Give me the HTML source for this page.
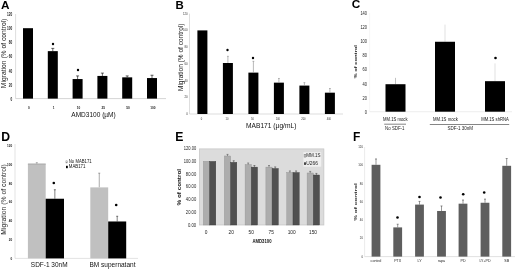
<!DOCTYPE html>
<html><head><meta charset="utf-8"><style>
html,body{margin:0;padding:0;background:#fff;width:520px;height:269px;overflow:hidden}
svg{display:block;will-change:transform}
</style></head><body>
<svg width="520" height="269" viewBox="0 0 520 269">
<rect x="0" y="0" width="520" height="269" fill="#fff"/>
<text x="0.9" y="8.8" font-size="11.8" font-weight="bold" font-family='"Liberation Sans", sans-serif' fill="#000">A</text>
<line x1="15.60" y1="14.00" x2="15.60" y2="98.60" stroke="#c8c8c8" stroke-width="0.6" />
<line x1="15.60" y1="98.60" x2="166.00" y2="98.60" stroke="#b8b8b8" stroke-width="0.6" />
<text x="12.30" y="99.40" font-size="4.6" text-anchor="end" font-weight="bold" fill="#222" font-family='"Liberation Sans", sans-serif' dominant-baseline="central" textLength="1.75" lengthAdjust="spacingAndGlyphs" >0</text>
<text x="12.30" y="85.23" font-size="4.6" text-anchor="end" font-weight="bold" fill="#222" font-family='"Liberation Sans", sans-serif' dominant-baseline="central" textLength="3.50" lengthAdjust="spacingAndGlyphs" >20</text>
<text x="12.30" y="71.07" font-size="4.6" text-anchor="end" font-weight="bold" fill="#222" font-family='"Liberation Sans", sans-serif' dominant-baseline="central" textLength="3.50" lengthAdjust="spacingAndGlyphs" >40</text>
<text x="12.30" y="56.90" font-size="4.6" text-anchor="end" font-weight="bold" fill="#222" font-family='"Liberation Sans", sans-serif' dominant-baseline="central" textLength="3.50" lengthAdjust="spacingAndGlyphs" >60</text>
<text x="12.30" y="42.74" font-size="4.6" text-anchor="end" font-weight="bold" fill="#222" font-family='"Liberation Sans", sans-serif' dominant-baseline="central" textLength="3.50" lengthAdjust="spacingAndGlyphs" >80</text>
<text x="12.30" y="28.57" font-size="4.6" text-anchor="end" font-weight="bold" fill="#222" font-family='"Liberation Sans", sans-serif' dominant-baseline="central" textLength="5.25" lengthAdjust="spacingAndGlyphs" >100</text>
<text x="12.30" y="14.40" font-size="4.6" text-anchor="end" font-weight="bold" fill="#222" font-family='"Liberation Sans", sans-serif' dominant-baseline="central" textLength="5.25" lengthAdjust="spacingAndGlyphs" >120</text>
<rect x="23.00" y="28.19" width="10.00" height="70.41" fill="#000" />
<rect x="47.80" y="51.14" width="10.00" height="47.46" fill="#000" />
<line x1="52.80" y1="48.38" x2="52.80" y2="51.14" stroke="#000" stroke-width="0.6" />
<line x1="51.30" y1="48.38" x2="54.30" y2="48.38" stroke="#000" stroke-width="0.6" />
<rect x="72.60" y="79.05" width="10.00" height="19.55" fill="#000" />
<line x1="77.60" y1="75.93" x2="77.60" y2="79.05" stroke="#000" stroke-width="0.6" />
<line x1="76.10" y1="75.93" x2="79.10" y2="75.93" stroke="#000" stroke-width="0.6" />
<rect x="97.40" y="75.93" width="10.00" height="22.67" fill="#000" />
<line x1="102.40" y1="73.10" x2="102.40" y2="75.93" stroke="#000" stroke-width="0.6" />
<line x1="100.90" y1="73.10" x2="103.90" y2="73.10" stroke="#000" stroke-width="0.6" />
<rect x="122.20" y="77.35" width="10.00" height="21.25" fill="#000" />
<line x1="127.20" y1="75.93" x2="127.20" y2="77.35" stroke="#000" stroke-width="0.6" />
<line x1="125.70" y1="75.93" x2="128.70" y2="75.93" stroke="#000" stroke-width="0.6" />
<rect x="147.00" y="78.06" width="10.00" height="20.54" fill="#000" />
<line x1="152.00" y1="75.23" x2="152.00" y2="78.06" stroke="#000" stroke-width="0.6" />
<line x1="150.50" y1="75.23" x2="153.50" y2="75.23" stroke="#000" stroke-width="0.6" />
<circle cx="53.00" cy="44.00" r="1.2" fill="#000"/>
<circle cx="78.00" cy="70.00" r="1.2" fill="#000"/>
<text x="28.80" y="107.10" font-size="4.2" text-anchor="middle" font-weight="bold" fill="#222" font-family='"Liberation Sans", sans-serif' dominant-baseline="central" textLength="1.75" lengthAdjust="spacingAndGlyphs" >0</text>
<text x="53.60" y="107.10" font-size="4.2" text-anchor="middle" font-weight="bold" fill="#222" font-family='"Liberation Sans", sans-serif' dominant-baseline="central" textLength="1.75" lengthAdjust="spacingAndGlyphs" >1</text>
<text x="78.40" y="107.10" font-size="4.2" text-anchor="middle" font-weight="bold" fill="#222" font-family='"Liberation Sans", sans-serif' dominant-baseline="central" textLength="3.50" lengthAdjust="spacingAndGlyphs" >10</text>
<text x="103.20" y="107.10" font-size="4.2" text-anchor="middle" font-weight="bold" fill="#222" font-family='"Liberation Sans", sans-serif' dominant-baseline="central" textLength="3.50" lengthAdjust="spacingAndGlyphs" >25</text>
<text x="128.00" y="107.10" font-size="4.2" text-anchor="middle" font-weight="bold" fill="#222" font-family='"Liberation Sans", sans-serif' dominant-baseline="central" textLength="3.50" lengthAdjust="spacingAndGlyphs" >50</text>
<text x="152.80" y="107.10" font-size="4.2" text-anchor="middle" font-weight="bold" fill="#222" font-family='"Liberation Sans", sans-serif' dominant-baseline="central" textLength="5.25" lengthAdjust="spacingAndGlyphs" >100</text>
<text x="93.50" y="114.10" font-size="6.5" text-anchor="middle" font-weight="normal" fill="#111" font-family='"Liberation Sans", sans-serif' dominant-baseline="central" textLength="44.40" lengthAdjust="spacingAndGlyphs" >AMD3100 (&#181;M)</text>
<text x="3.60" y="53.40" font-size="6.4" text-anchor="middle" font-weight="normal" fill="#222" font-family='"Liberation Sans", sans-serif' dominant-baseline="central" transform="rotate(-90 3.60 53.40)" textLength="69.50" lengthAdjust="spacingAndGlyphs" >Migration (% of control)</text>
<text x="175.6" y="8.8" font-size="11.4" font-weight="bold" font-family='"Liberation Sans", sans-serif' fill="#000">B</text>
<line x1="189.50" y1="13.60" x2="189.50" y2="114.00" stroke="#c8c8c8" stroke-width="0.6" />
<line x1="189.50" y1="114.00" x2="343.00" y2="114.00" stroke="#c8c8c8" stroke-width="0.6" />
<text x="187.70" y="114.00" font-size="3.6" text-anchor="end" font-weight="normal" fill="#333" font-family='"Liberation Sans", sans-serif' dominant-baseline="central" textLength="1.57" lengthAdjust="spacingAndGlyphs" >0</text>
<text x="187.70" y="97.28" font-size="3.6" text-anchor="end" font-weight="normal" fill="#333" font-family='"Liberation Sans", sans-serif' dominant-baseline="central" textLength="3.14" lengthAdjust="spacingAndGlyphs" >20</text>
<text x="187.70" y="80.56" font-size="3.6" text-anchor="end" font-weight="normal" fill="#333" font-family='"Liberation Sans", sans-serif' dominant-baseline="central" textLength="3.14" lengthAdjust="spacingAndGlyphs" >40</text>
<text x="187.70" y="63.84" font-size="3.6" text-anchor="end" font-weight="normal" fill="#333" font-family='"Liberation Sans", sans-serif' dominant-baseline="central" textLength="3.14" lengthAdjust="spacingAndGlyphs" >60</text>
<text x="187.70" y="47.12" font-size="3.6" text-anchor="end" font-weight="normal" fill="#333" font-family='"Liberation Sans", sans-serif' dominant-baseline="central" textLength="3.14" lengthAdjust="spacingAndGlyphs" >80</text>
<text x="187.70" y="30.40" font-size="3.6" text-anchor="end" font-weight="normal" fill="#333" font-family='"Liberation Sans", sans-serif' dominant-baseline="central" textLength="4.71" lengthAdjust="spacingAndGlyphs" >100</text>
<text x="187.70" y="13.68" font-size="3.6" text-anchor="end" font-weight="normal" fill="#333" font-family='"Liberation Sans", sans-serif' dominant-baseline="central" textLength="4.71" lengthAdjust="spacingAndGlyphs" >120</text>
<rect x="197.40" y="30.40" width="10.00" height="83.60" fill="#000" />
<rect x="222.90" y="63.00" width="10.00" height="51.00" fill="#000" />
<line x1="227.90" y1="56.32" x2="227.90" y2="63.00" stroke="#888" stroke-width="0.6" />
<line x1="227.00" y1="56.32" x2="228.80" y2="56.32" stroke="#888" stroke-width="0.6" />
<rect x="248.40" y="72.62" width="10.00" height="41.38" fill="#000" />
<line x1="253.40" y1="61.33" x2="253.40" y2="72.62" stroke="#888" stroke-width="0.6" />
<line x1="252.50" y1="61.33" x2="254.30" y2="61.33" stroke="#888" stroke-width="0.6" />
<rect x="273.90" y="82.65" width="10.00" height="31.35" fill="#000" />
<line x1="278.90" y1="78.47" x2="278.90" y2="82.65" stroke="#888" stroke-width="0.6" />
<line x1="278.00" y1="78.47" x2="279.80" y2="78.47" stroke="#888" stroke-width="0.6" />
<rect x="299.40" y="85.58" width="10.00" height="28.42" fill="#000" />
<line x1="304.40" y1="82.65" x2="304.40" y2="85.58" stroke="#888" stroke-width="0.6" />
<line x1="303.50" y1="82.65" x2="305.30" y2="82.65" stroke="#888" stroke-width="0.6" />
<rect x="324.90" y="92.68" width="10.00" height="21.32" fill="#000" />
<line x1="329.90" y1="88.50" x2="329.90" y2="92.68" stroke="#888" stroke-width="0.6" />
<line x1="329.00" y1="88.50" x2="330.80" y2="88.50" stroke="#888" stroke-width="0.6" />
<circle cx="227.50" cy="50.00" r="1.2" fill="#000"/>
<circle cx="253.00" cy="58.00" r="1.2" fill="#000"/>
<text x="201.40" y="118.80" font-size="3.6" text-anchor="middle" font-weight="normal" fill="#333" font-family='"Liberation Sans", sans-serif' dominant-baseline="central" textLength="1.45" lengthAdjust="spacingAndGlyphs" >0</text>
<text x="226.90" y="118.80" font-size="3.6" text-anchor="middle" font-weight="normal" fill="#333" font-family='"Liberation Sans", sans-serif' dominant-baseline="central" textLength="2.90" lengthAdjust="spacingAndGlyphs" >10</text>
<text x="252.40" y="118.80" font-size="3.6" text-anchor="middle" font-weight="normal" fill="#333" font-family='"Liberation Sans", sans-serif' dominant-baseline="central" textLength="2.90" lengthAdjust="spacingAndGlyphs" >50</text>
<text x="277.90" y="118.80" font-size="3.6" text-anchor="middle" font-weight="normal" fill="#333" font-family='"Liberation Sans", sans-serif' dominant-baseline="central" textLength="4.35" lengthAdjust="spacingAndGlyphs" >100</text>
<text x="303.40" y="118.80" font-size="3.6" text-anchor="middle" font-weight="normal" fill="#333" font-family='"Liberation Sans", sans-serif' dominant-baseline="central" textLength="4.35" lengthAdjust="spacingAndGlyphs" >200</text>
<text x="328.90" y="118.80" font-size="3.6" text-anchor="middle" font-weight="normal" fill="#333" font-family='"Liberation Sans", sans-serif' dominant-baseline="central" textLength="4.35" lengthAdjust="spacingAndGlyphs" >400</text>
<text x="271.20" y="125.60" font-size="6.6" text-anchor="middle" font-weight="normal" fill="#111" font-family='"Liberation Sans", sans-serif' dominant-baseline="central" textLength="50.40" lengthAdjust="spacingAndGlyphs" >MAB171 (&#181;g/mL)</text>
<text x="180.60" y="57.30" font-size="6.4" text-anchor="middle" font-weight="normal" fill="#222" font-family='"Liberation Sans", sans-serif' dominant-baseline="central" transform="rotate(-90 180.60 57.30)" textLength="67.50" lengthAdjust="spacingAndGlyphs" >Migration (% of control)</text>
<text x="351.7" y="8.3" font-size="11.8" font-weight="bold" font-family='"Liberation Sans", sans-serif' fill="#000">C</text>
<line x1="369.60" y1="111.70" x2="512.00" y2="111.70" stroke="#e2e2e2" stroke-width="0.6" />
<text x="367.00" y="111.70" font-size="5.0" text-anchor="end" font-weight="normal" fill="#222" font-family='"Liberation Sans", sans-serif' dominant-baseline="central" textLength="2.20" lengthAdjust="spacingAndGlyphs" >0</text>
<text x="367.00" y="97.60" font-size="5.0" text-anchor="end" font-weight="normal" fill="#222" font-family='"Liberation Sans", sans-serif' dominant-baseline="central" textLength="4.40" lengthAdjust="spacingAndGlyphs" >20</text>
<text x="367.00" y="83.50" font-size="5.0" text-anchor="end" font-weight="normal" fill="#222" font-family='"Liberation Sans", sans-serif' dominant-baseline="central" textLength="4.40" lengthAdjust="spacingAndGlyphs" >40</text>
<text x="367.00" y="69.40" font-size="5.0" text-anchor="end" font-weight="normal" fill="#222" font-family='"Liberation Sans", sans-serif' dominant-baseline="central" textLength="4.40" lengthAdjust="spacingAndGlyphs" >60</text>
<text x="367.00" y="55.30" font-size="5.0" text-anchor="end" font-weight="normal" fill="#222" font-family='"Liberation Sans", sans-serif' dominant-baseline="central" textLength="4.40" lengthAdjust="spacingAndGlyphs" >80</text>
<text x="367.00" y="41.20" font-size="5.0" text-anchor="end" font-weight="normal" fill="#222" font-family='"Liberation Sans", sans-serif' dominant-baseline="central" textLength="6.60" lengthAdjust="spacingAndGlyphs" >100</text>
<text x="367.00" y="27.10" font-size="5.0" text-anchor="end" font-weight="normal" fill="#222" font-family='"Liberation Sans", sans-serif' dominant-baseline="central" textLength="6.60" lengthAdjust="spacingAndGlyphs" >120</text>
<text x="367.00" y="13.00" font-size="5.0" text-anchor="end" font-weight="normal" fill="#222" font-family='"Liberation Sans", sans-serif' dominant-baseline="central" textLength="6.60" lengthAdjust="spacingAndGlyphs" >140</text>
<line x1="369.60" y1="13.00" x2="369.60" y2="111.70" stroke="#eee" stroke-width="0.5" />
<line x1="395.50" y1="77.86" x2="395.50" y2="84.21" stroke="#999" stroke-width="0.6" />
<rect x="385.50" y="84.21" width="20.00" height="27.49" fill="#000" />
<line x1="445.00" y1="24.63" x2="445.00" y2="41.76" stroke="#ccc" stroke-width="0.6" />
<rect x="435.00" y="41.76" width="20.00" height="69.94" fill="#000" />
<line x1="495.00" y1="63.41" x2="495.00" y2="81.17" stroke="#ccc" stroke-width="0.6" />
<rect x="485.00" y="81.17" width="20.00" height="30.53" fill="#000" />
<circle cx="495.50" cy="58.00" r="1.3" fill="#000"/>
<text x="395.30" y="119.30" font-size="4.7" text-anchor="middle" font-weight="normal" fill="#111" font-family='"Liberation Sans", sans-serif' dominant-baseline="central" textLength="24.50" lengthAdjust="spacingAndGlyphs" >MM.1S mock</text>
<text x="445.40" y="119.30" font-size="4.7" text-anchor="middle" font-weight="normal" fill="#111" font-family='"Liberation Sans", sans-serif' dominant-baseline="central" textLength="24.80" lengthAdjust="spacingAndGlyphs" >MM.1S mock</text>
<text x="495.00" y="119.30" font-size="4.7" text-anchor="middle" font-weight="normal" fill="#111" font-family='"Liberation Sans", sans-serif' dominant-baseline="central" textLength="27.70" lengthAdjust="spacingAndGlyphs" >MM.1S shRNA</text>
<line x1="384.20" y1="124.20" x2="406.00" y2="124.20" stroke="#333" stroke-width="0.6" />
<line x1="429.80" y1="124.50" x2="509.20" y2="124.50" stroke="#333" stroke-width="0.6" />
<text x="394.80" y="128.40" font-size="4.8" text-anchor="middle" font-weight="normal" fill="#222" font-family='"Liberation Sans", sans-serif' dominant-baseline="central" textLength="19.40" lengthAdjust="spacingAndGlyphs" >No SDF-1</text>
<text x="460.30" y="128.80" font-size="4.8" text-anchor="middle" font-weight="normal" fill="#222" font-family='"Liberation Sans", sans-serif' dominant-baseline="central" textLength="25.60" lengthAdjust="spacingAndGlyphs" >SDF-1 30nM</text>
<text x="355.50" y="61.80" font-size="4.2" text-anchor="middle" font-weight="bold" fill="#111" font-family='"Liberation Sans", sans-serif' dominant-baseline="central" transform="rotate(-90 355.50 61.80)" textLength="33.60" lengthAdjust="spacingAndGlyphs" >% of control</text>
<text x="1.3" y="141.0" font-size="12.2" font-weight="bold" font-family='"Liberation Sans", sans-serif' fill="#000">D</text>
<line x1="15.00" y1="144.00" x2="15.00" y2="258.40" stroke="#d0d0d0" stroke-width="0.6" />
<line x1="15.00" y1="258.40" x2="138.00" y2="258.40" stroke="#d0d0d0" stroke-width="0.6" />
<text x="12.20" y="259.30" font-size="3.8" text-anchor="end" font-weight="bold" fill="#222" font-family='"Liberation Sans", sans-serif' dominant-baseline="central" textLength="1.73" lengthAdjust="spacingAndGlyphs" >0</text>
<text x="12.20" y="240.36" font-size="3.8" text-anchor="end" font-weight="bold" fill="#222" font-family='"Liberation Sans", sans-serif' dominant-baseline="central" textLength="3.46" lengthAdjust="spacingAndGlyphs" >20</text>
<text x="12.20" y="221.42" font-size="3.8" text-anchor="end" font-weight="bold" fill="#222" font-family='"Liberation Sans", sans-serif' dominant-baseline="central" textLength="3.46" lengthAdjust="spacingAndGlyphs" >40</text>
<text x="12.20" y="202.48" font-size="3.8" text-anchor="end" font-weight="bold" fill="#222" font-family='"Liberation Sans", sans-serif' dominant-baseline="central" textLength="3.46" lengthAdjust="spacingAndGlyphs" >60</text>
<text x="12.20" y="183.54" font-size="3.8" text-anchor="end" font-weight="bold" fill="#222" font-family='"Liberation Sans", sans-serif' dominant-baseline="central" textLength="3.46" lengthAdjust="spacingAndGlyphs" >80</text>
<text x="12.20" y="164.60" font-size="3.8" text-anchor="end" font-weight="bold" fill="#222" font-family='"Liberation Sans", sans-serif' dominant-baseline="central" textLength="5.19" lengthAdjust="spacingAndGlyphs" >100</text>
<text x="12.20" y="145.66" font-size="3.8" text-anchor="end" font-weight="bold" fill="#222" font-family='"Liberation Sans", sans-serif' dominant-baseline="central" textLength="5.19" lengthAdjust="spacingAndGlyphs" >120</text>
<line x1="36.80" y1="162.75" x2="36.80" y2="163.70" stroke="#555" stroke-width="0.5" />
<line x1="35.80" y1="162.75" x2="37.80" y2="162.75" stroke="#555" stroke-width="0.5" />
<rect x="27.90" y="163.70" width="17.80" height="94.70" fill="#c0c0c0" />
<line x1="54.85" y1="189.74" x2="54.85" y2="198.74" stroke="#000" stroke-width="0.5" />
<line x1="53.85" y1="189.74" x2="55.85" y2="189.74" stroke="#000" stroke-width="0.5" />
<rect x="45.70" y="198.74" width="18.30" height="59.66" fill="#000" />
<line x1="99.25" y1="173.17" x2="99.25" y2="187.38" stroke="#555" stroke-width="0.5" />
<line x1="98.25" y1="173.17" x2="100.25" y2="173.17" stroke="#555" stroke-width="0.5" />
<rect x="90.30" y="187.38" width="17.90" height="71.02" fill="#c0c0c0" />
<line x1="117.20" y1="216.26" x2="117.20" y2="221.47" stroke="#000" stroke-width="0.5" />
<line x1="116.20" y1="216.26" x2="118.20" y2="216.26" stroke="#000" stroke-width="0.5" />
<rect x="108.20" y="221.47" width="18.00" height="36.93" fill="#000" />
<circle cx="53.80" cy="183.00" r="1.3" fill="#000"/>
<circle cx="116.20" cy="205.00" r="1.3" fill="#000"/>
<line x1="27.90" y1="164.10" x2="45.70" y2="164.10" stroke="#a4a4a4" stroke-width="0.8" />
<rect x="65.90" y="160.80" width="1.60" height="2.20" fill="#ddd" stroke="#888" stroke-width="0.4"/>
<rect x="66.00" y="165.80" width="1.80" height="2.40" fill="#000" />
<text x="68.80" y="161.90" font-size="4.5" text-anchor="start" font-weight="normal" fill="#111" font-family='"Liberation Sans", sans-serif' dominant-baseline="central" textLength="22.80" lengthAdjust="spacingAndGlyphs" >No MAB171</text>
<text x="68.80" y="166.90" font-size="4.5" text-anchor="start" font-weight="normal" fill="#111" font-family='"Liberation Sans", sans-serif' dominant-baseline="central" textLength="16.60" lengthAdjust="spacingAndGlyphs" >MAB171</text>
<text x="49.20" y="264.40" font-size="6.6" text-anchor="middle" font-weight="normal" fill="#111" font-family='"Liberation Sans", sans-serif' dominant-baseline="central" textLength="36.70" lengthAdjust="spacingAndGlyphs" >SDF-1 30nM</text>
<text x="112.50" y="264.40" font-size="6.6" text-anchor="middle" font-weight="normal" fill="#111" font-family='"Liberation Sans", sans-serif' dominant-baseline="central" textLength="46.00" lengthAdjust="spacingAndGlyphs" >BM supernatant</text>
<text x="3.40" y="199.50" font-size="6.5" text-anchor="middle" font-weight="normal" fill="#222" font-family='"Liberation Sans", sans-serif' dominant-baseline="central" transform="rotate(-90 3.40 199.50)" textLength="70.50" lengthAdjust="spacingAndGlyphs" >Migration (% of control)</text>
<text x="175.2" y="141.3" font-size="12.2" font-weight="bold" font-family='"Liberation Sans", sans-serif' fill="#000">E</text>
<rect x="199.50" y="148.90" width="124.40" height="76.10" fill="#dcdcdc" stroke="#c4c4c4" stroke-width="0.7"/>
<text x="196.20" y="225.00" font-size="4.7" text-anchor="end" font-weight="normal" fill="#222" font-family='"Liberation Sans", sans-serif' dominant-baseline="central" textLength="8.27" lengthAdjust="spacingAndGlyphs" >0.00</text>
<text x="196.20" y="212.28" font-size="4.7" text-anchor="end" font-weight="normal" fill="#222" font-family='"Liberation Sans", sans-serif' dominant-baseline="central" textLength="10.33" lengthAdjust="spacingAndGlyphs" >20.00</text>
<text x="196.20" y="199.56" font-size="4.7" text-anchor="end" font-weight="normal" fill="#222" font-family='"Liberation Sans", sans-serif' dominant-baseline="central" textLength="10.33" lengthAdjust="spacingAndGlyphs" >40.00</text>
<text x="196.20" y="186.84" font-size="4.7" text-anchor="end" font-weight="normal" fill="#222" font-family='"Liberation Sans", sans-serif' dominant-baseline="central" textLength="10.33" lengthAdjust="spacingAndGlyphs" >60.00</text>
<text x="196.20" y="174.12" font-size="4.7" text-anchor="end" font-weight="normal" fill="#222" font-family='"Liberation Sans", sans-serif' dominant-baseline="central" textLength="10.33" lengthAdjust="spacingAndGlyphs" >80.00</text>
<text x="196.20" y="161.40" font-size="4.7" text-anchor="end" font-weight="normal" fill="#222" font-family='"Liberation Sans", sans-serif' dominant-baseline="central" textLength="12.40" lengthAdjust="spacingAndGlyphs" >100.00</text>
<text x="196.20" y="148.68" font-size="4.7" text-anchor="end" font-weight="normal" fill="#222" font-family='"Liberation Sans", sans-serif' dominant-baseline="central" textLength="12.40" lengthAdjust="spacingAndGlyphs" >120.00</text>
<rect x="203.40" y="161.40" width="6.20" height="63.60" fill="#adadad" stroke="#909090" stroke-width="0.4"/>
<rect x="209.60" y="161.40" width="6.20" height="63.60" fill="#505050" stroke="#3a3a3a" stroke-width="0.4"/>
<rect x="224.40" y="155.99" width="6.20" height="69.01" fill="#adadad" stroke="#909090" stroke-width="0.4"/>
<rect x="230.60" y="162.35" width="6.20" height="62.65" fill="#505050" stroke="#3a3a3a" stroke-width="0.4"/>
<line x1="227.50" y1="154.40" x2="227.50" y2="155.99" stroke="#444" stroke-width="0.5" />
<line x1="226.50" y1="154.40" x2="228.50" y2="154.40" stroke="#444" stroke-width="0.5" />
<line x1="233.70" y1="160.76" x2="233.70" y2="162.35" stroke="#333" stroke-width="0.5" />
<line x1="232.70" y1="160.76" x2="234.70" y2="160.76" stroke="#333" stroke-width="0.5" />
<rect x="245.10" y="164.58" width="6.20" height="60.42" fill="#adadad" stroke="#909090" stroke-width="0.4"/>
<rect x="251.30" y="167.12" width="6.20" height="57.88" fill="#505050" stroke="#3a3a3a" stroke-width="0.4"/>
<line x1="248.20" y1="162.99" x2="248.20" y2="164.58" stroke="#444" stroke-width="0.5" />
<line x1="247.20" y1="162.99" x2="249.20" y2="162.99" stroke="#444" stroke-width="0.5" />
<line x1="254.40" y1="165.53" x2="254.40" y2="167.12" stroke="#333" stroke-width="0.5" />
<line x1="253.40" y1="165.53" x2="255.40" y2="165.53" stroke="#333" stroke-width="0.5" />
<rect x="265.90" y="167.12" width="6.20" height="57.88" fill="#adadad" stroke="#909090" stroke-width="0.4"/>
<rect x="272.10" y="168.52" width="6.20" height="56.48" fill="#505050" stroke="#3a3a3a" stroke-width="0.4"/>
<line x1="269.00" y1="165.53" x2="269.00" y2="167.12" stroke="#444" stroke-width="0.5" />
<line x1="268.00" y1="165.53" x2="270.00" y2="165.53" stroke="#444" stroke-width="0.5" />
<line x1="275.20" y1="166.93" x2="275.20" y2="168.52" stroke="#333" stroke-width="0.5" />
<line x1="274.20" y1="166.93" x2="276.20" y2="166.93" stroke="#333" stroke-width="0.5" />
<rect x="286.80" y="172.53" width="6.20" height="52.47" fill="#adadad" stroke="#909090" stroke-width="0.4"/>
<rect x="293.00" y="172.53" width="6.20" height="52.47" fill="#505050" stroke="#3a3a3a" stroke-width="0.4"/>
<line x1="289.90" y1="170.94" x2="289.90" y2="172.53" stroke="#444" stroke-width="0.5" />
<line x1="288.90" y1="170.94" x2="290.90" y2="170.94" stroke="#444" stroke-width="0.5" />
<line x1="296.10" y1="170.94" x2="296.10" y2="172.53" stroke="#333" stroke-width="0.5" />
<line x1="295.10" y1="170.94" x2="297.10" y2="170.94" stroke="#333" stroke-width="0.5" />
<rect x="307.10" y="172.98" width="6.20" height="52.02" fill="#adadad" stroke="#909090" stroke-width="0.4"/>
<rect x="313.30" y="175.01" width="6.20" height="49.99" fill="#505050" stroke="#3a3a3a" stroke-width="0.4"/>
<line x1="310.20" y1="171.39" x2="310.20" y2="172.98" stroke="#444" stroke-width="0.5" />
<line x1="309.20" y1="171.39" x2="311.20" y2="171.39" stroke="#444" stroke-width="0.5" />
<line x1="316.40" y1="173.42" x2="316.40" y2="175.01" stroke="#333" stroke-width="0.5" />
<line x1="315.40" y1="173.42" x2="317.40" y2="173.42" stroke="#333" stroke-width="0.5" />
<rect x="303.40" y="152.20" width="17.80" height="14.50" fill="#f0f0f0" />
<rect x="304.10" y="154.50" width="1.80" height="2.60" fill="#cfcfcf" stroke="#666" stroke-width="0.4"/>
<rect x="304.10" y="162.30" width="1.80" height="2.60" fill="#333" />
<text x="306.30" y="155.80" font-size="4.6" text-anchor="start" font-weight="normal" fill="#222" font-family='"Liberation Sans", sans-serif' dominant-baseline="central" textLength="14.30" lengthAdjust="spacingAndGlyphs" >MM.1S</text>
<text x="306.30" y="163.60" font-size="4.6" text-anchor="start" font-weight="normal" fill="#222" font-family='"Liberation Sans", sans-serif' dominant-baseline="central" textLength="11.60" lengthAdjust="spacingAndGlyphs" >U266</text>
<text x="206.20" y="232.50" font-size="4.8" text-anchor="middle" font-weight="normal" fill="#222" font-family='"Liberation Sans", sans-serif' dominant-baseline="central" >0</text>
<text x="231.20" y="232.50" font-size="4.8" text-anchor="middle" font-weight="normal" fill="#222" font-family='"Liberation Sans", sans-serif' dominant-baseline="central" >20</text>
<text x="251.20" y="232.50" font-size="4.8" text-anchor="middle" font-weight="normal" fill="#222" font-family='"Liberation Sans", sans-serif' dominant-baseline="central" >50</text>
<text x="271.20" y="232.50" font-size="4.8" text-anchor="middle" font-weight="normal" fill="#222" font-family='"Liberation Sans", sans-serif' dominant-baseline="central" >75</text>
<text x="291.70" y="232.50" font-size="4.8" text-anchor="middle" font-weight="normal" fill="#222" font-family='"Liberation Sans", sans-serif' dominant-baseline="central" >100</text>
<text x="313.00" y="232.50" font-size="4.8" text-anchor="middle" font-weight="normal" fill="#222" font-family='"Liberation Sans", sans-serif' dominant-baseline="central" >150</text>
<text x="262.00" y="241.20" font-size="4.6" text-anchor="middle" font-weight="bold" fill="#111" font-family='"Liberation Sans", sans-serif' dominant-baseline="central" textLength="19.00" lengthAdjust="spacingAndGlyphs" >AMD3100</text>
<text x="179.60" y="187.20" font-size="4.5" text-anchor="middle" font-weight="bold" fill="#111" font-family='"Liberation Sans", sans-serif' dominant-baseline="central" transform="rotate(-90 179.60 187.20)" textLength="36.40" lengthAdjust="spacingAndGlyphs" >% of control</text>
<text x="353.0" y="141.1" font-size="12" font-weight="bold" font-family='"Liberation Sans", sans-serif' fill="#000">F</text>
<line x1="364.60" y1="147.00" x2="364.60" y2="256.60" stroke="#ddd" stroke-width="0.6" />
<line x1="364.60" y1="256.60" x2="515.00" y2="256.60" stroke="#ccc" stroke-width="0.6" />
<text x="363.00" y="256.60" font-size="3.4" text-anchor="end" font-weight="normal" fill="#333" font-family='"Liberation Sans", sans-serif' dominant-baseline="central" textLength="1.60" lengthAdjust="spacingAndGlyphs" >0</text>
<text x="363.00" y="238.35" font-size="3.4" text-anchor="end" font-weight="normal" fill="#333" font-family='"Liberation Sans", sans-serif' dominant-baseline="central" textLength="3.20" lengthAdjust="spacingAndGlyphs" >20</text>
<text x="363.00" y="220.10" font-size="3.4" text-anchor="end" font-weight="normal" fill="#333" font-family='"Liberation Sans", sans-serif' dominant-baseline="central" textLength="3.20" lengthAdjust="spacingAndGlyphs" >40</text>
<text x="363.00" y="201.85" font-size="3.4" text-anchor="end" font-weight="normal" fill="#333" font-family='"Liberation Sans", sans-serif' dominant-baseline="central" textLength="3.20" lengthAdjust="spacingAndGlyphs" >60</text>
<text x="363.00" y="183.60" font-size="3.4" text-anchor="end" font-weight="normal" fill="#333" font-family='"Liberation Sans", sans-serif' dominant-baseline="central" textLength="3.20" lengthAdjust="spacingAndGlyphs" >80</text>
<text x="363.00" y="165.35" font-size="3.4" text-anchor="end" font-weight="normal" fill="#333" font-family='"Liberation Sans", sans-serif' dominant-baseline="central" textLength="4.80" lengthAdjust="spacingAndGlyphs" >100</text>
<text x="363.00" y="147.10" font-size="3.4" text-anchor="end" font-weight="normal" fill="#333" font-family='"Liberation Sans", sans-serif' dominant-baseline="central" textLength="4.80" lengthAdjust="spacingAndGlyphs" >120</text>
<line x1="376.00" y1="158.96" x2="376.00" y2="164.80" stroke="#333" stroke-width="0.5" />
<line x1="375.00" y1="158.96" x2="377.00" y2="158.96" stroke="#333" stroke-width="0.5" />
<rect x="371.60" y="164.80" width="8.80" height="91.80" fill="#5e5e5e" />
<line x1="397.70" y1="224.21" x2="397.70" y2="227.40" stroke="#333" stroke-width="0.5" />
<line x1="396.70" y1="224.21" x2="398.70" y2="224.21" stroke="#333" stroke-width="0.5" />
<rect x="393.30" y="227.40" width="8.80" height="29.20" fill="#5e5e5e" />
<line x1="419.50" y1="201.39" x2="419.50" y2="204.59" stroke="#333" stroke-width="0.5" />
<line x1="418.50" y1="201.39" x2="420.50" y2="201.39" stroke="#333" stroke-width="0.5" />
<rect x="415.10" y="204.59" width="8.80" height="52.01" fill="#5e5e5e" />
<line x1="441.50" y1="205.96" x2="441.50" y2="210.98" stroke="#333" stroke-width="0.5" />
<line x1="440.50" y1="205.96" x2="442.50" y2="205.96" stroke="#333" stroke-width="0.5" />
<rect x="437.10" y="210.98" width="8.80" height="45.62" fill="#5e5e5e" />
<line x1="463.00" y1="200.03" x2="463.00" y2="203.68" stroke="#333" stroke-width="0.5" />
<line x1="462.00" y1="200.03" x2="464.00" y2="200.03" stroke="#333" stroke-width="0.5" />
<rect x="458.60" y="203.68" width="8.80" height="52.92" fill="#5e5e5e" />
<line x1="485.00" y1="199.11" x2="485.00" y2="202.76" stroke="#333" stroke-width="0.5" />
<line x1="484.00" y1="199.11" x2="486.00" y2="199.11" stroke="#333" stroke-width="0.5" />
<rect x="480.60" y="202.76" width="8.80" height="53.84" fill="#5e5e5e" />
<line x1="506.70" y1="158.51" x2="506.70" y2="165.81" stroke="#333" stroke-width="0.5" />
<line x1="505.70" y1="158.51" x2="507.70" y2="158.51" stroke="#333" stroke-width="0.5" />
<rect x="502.30" y="165.81" width="8.80" height="90.79" fill="#5e5e5e" />
<circle cx="397.50" cy="217.50" r="1.3" fill="#000"/>
<circle cx="419.50" cy="197.00" r="1.3" fill="#000"/>
<circle cx="440.50" cy="197.50" r="1.3" fill="#000"/>
<circle cx="463.20" cy="194.20" r="1.3" fill="#000"/>
<circle cx="484.20" cy="192.50" r="1.3" fill="#000"/>
<text x="376.00" y="261.30" font-size="3.6" text-anchor="middle" font-weight="normal" fill="#222" font-family='"Liberation Sans", sans-serif' dominant-baseline="central" >control</text>
<text x="397.70" y="261.30" font-size="3.6" text-anchor="middle" font-weight="normal" fill="#222" font-family='"Liberation Sans", sans-serif' dominant-baseline="central" >PTX</text>
<text x="419.50" y="261.30" font-size="3.6" text-anchor="middle" font-weight="normal" fill="#222" font-family='"Liberation Sans", sans-serif' dominant-baseline="central" >LY</text>
<text x="441.50" y="261.30" font-size="3.6" text-anchor="middle" font-weight="normal" fill="#222" font-family='"Liberation Sans", sans-serif' dominant-baseline="central" >rapa</text>
<text x="463.00" y="261.30" font-size="3.6" text-anchor="middle" font-weight="normal" fill="#222" font-family='"Liberation Sans", sans-serif' dominant-baseline="central" >PD</text>
<text x="485.00" y="261.30" font-size="3.6" text-anchor="middle" font-weight="normal" fill="#222" font-family='"Liberation Sans", sans-serif' dominant-baseline="central" >LY+PD</text>
<text x="506.70" y="261.30" font-size="3.6" text-anchor="middle" font-weight="normal" fill="#222" font-family='"Liberation Sans", sans-serif' dominant-baseline="central" >SB</text>
<text x="355.60" y="202.00" font-size="4.2" text-anchor="middle" font-weight="bold" fill="#222" font-family='"Liberation Sans", sans-serif' dominant-baseline="central" transform="rotate(-90 355.60 202.00)" textLength="37.50" lengthAdjust="spacingAndGlyphs" >% of control</text>
</svg>
</body></html>
